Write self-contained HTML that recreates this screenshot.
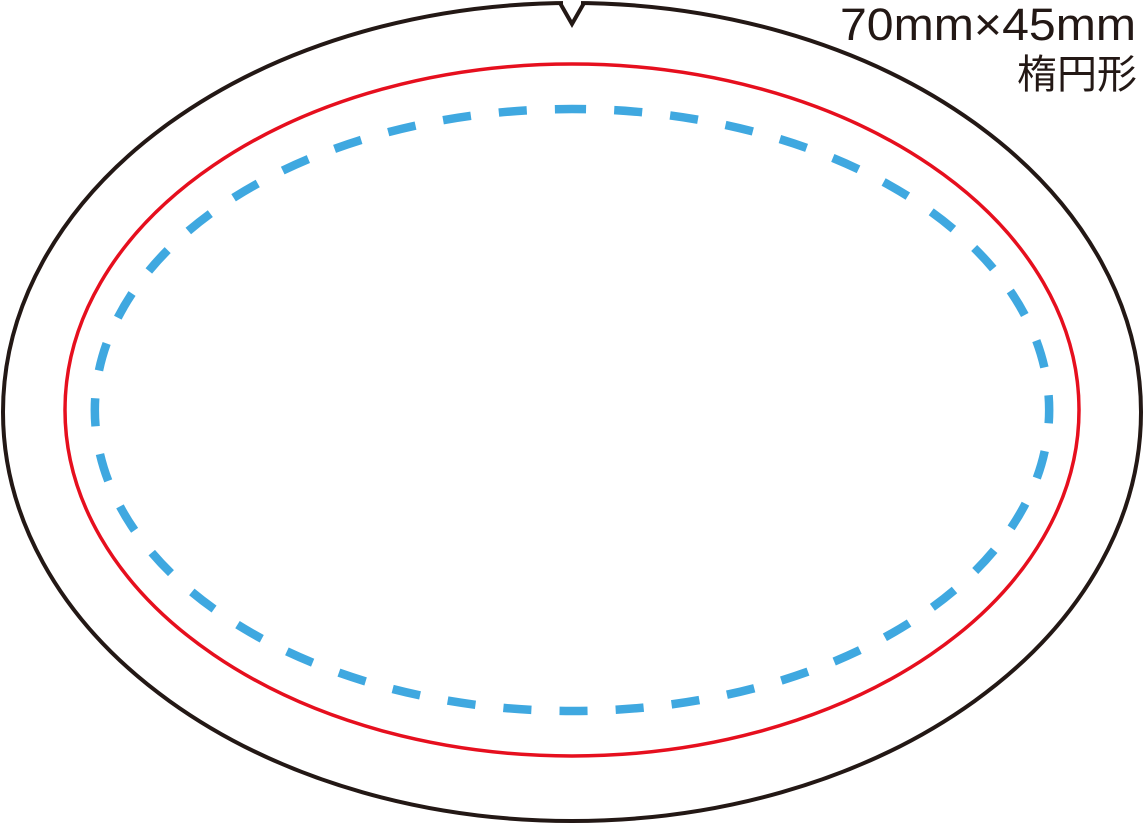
<!DOCTYPE html>
<html><head><meta charset="utf-8"><style>
html,body{margin:0;padding:0;background:#fff;width:1145px;height:823px;overflow:hidden}
</style></head><body>
<svg width="1145" height="823" viewBox="0 0 1145 823" xmlns="http://www.w3.org/2000/svg">
<ellipse cx="572" cy="412" rx="569" ry="409" fill="none" stroke="#231815" stroke-width="4"/>
<rect x="563" y="0" width="18" height="9" fill="#fff"/>
<polyline points="560,3 572,24 584,3" fill="none" stroke="#231815" stroke-width="4" stroke-linejoin="miter"/>
<ellipse cx="572" cy="410" rx="507" ry="346" fill="none" stroke="#e60f1e" stroke-width="3.5"/>
<path d="M572,109 A477,301 0 1 1 572,711 A477,301 0 1 1 572,109" fill="none" stroke="#3fa8e0" stroke-width="8.5" stroke-dasharray="28.1 28.1" stroke-dashoffset="14"/>
<text x="840" y="40" textLength="296" lengthAdjust="spacingAndGlyphs" font-family="Liberation Sans, sans-serif" font-size="45" fill="#231815">70mm×45mm</text>
<text x="1137" y="88" text-anchor="end" font-family="Liberation Sans, Noto Sans CJK JP, sans-serif" font-size="40" fill="#231815">楕円形</text>
</svg>
</body></html>
